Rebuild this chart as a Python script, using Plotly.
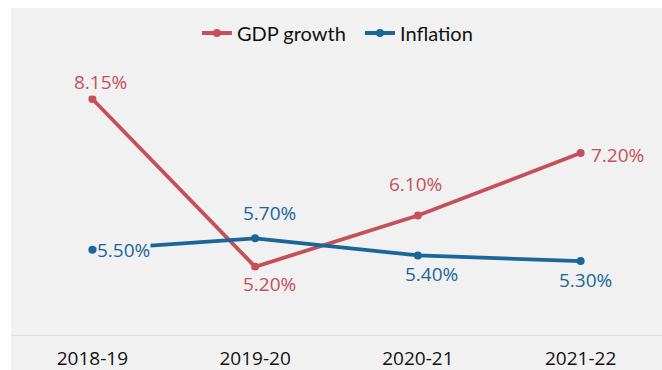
import plotly.graph_objects as go

years = ["2018-19", "2019-20", "2020-21", "2021-22"]
gdp_growth = [8.15, 5.20, 6.10, 7.20]
inflation = [5.50, 5.70, 5.40, 5.30]

RED = "#c5505a"
BLUE = "#1b6698"
BG = "#f1f1f1"

# label placement styles (anchor, xshift, yshift) per point
gdp_label_style = [("center", "bottom", 8, 3), ("center", "top", 14, -3), ("center", "bottom", -2, 18), ("left", "middle", 9, -2)]
inf_label_style = [("left", "middle", 4, 0), ("center", "bottom", 14, 11), ("center", "top", 14, -5), ("center", "top", 5, -5)]

fig = go.Figure()
fig.add_trace(go.Scatter(x=years, y=gdp_growth, name="GDP growth", mode="lines+markers",
                         line=dict(color=RED, width=3.8), marker=dict(color=RED, size=8)))
fig.add_trace(go.Scatter(x=years, y=inflation, name="Inflation", mode="lines+markers",
                         line=dict(color=BLUE, width=3.8), marker=dict(color=BLUE, size=8)))

annotations = []
for vals, styles, col in [(gdp_growth, gdp_label_style, RED), (inflation, inf_label_style, BLUE)]:
    for x, v, (xa, ya, xs, ys) in zip(years, vals, styles):
        annotations.append(dict(x=x, y=v, xref="x", yref="y", text=f"{v:.2f}%", showarrow=False,
                                xanchor=xa, yanchor=ya, xshift=xs, yshift=ys,
                                font=dict(family="Open Sans", size=19, color=col),
                                bgcolor=BG, borderpad=0))

L, R, T, B = 11, 0, 8, 35
W, H = 662, 370
pw, ph = W - L - R, H - T - B

fig.update_layout(
    width=W, height=H,
    margin=dict(l=L, r=R, t=T, b=B),
    paper_bgcolor=BG, plot_bgcolor=BG,
    showlegend=True,
    legend=dict(orientation="h", x=0.536, xanchor="center", y=1 - (33 - T) / ph, yanchor="middle",
                font=dict(family="Lato", size=20, color="#111111"), bgcolor="rgba(0,0,0,0)",
                itemwidth=30, entrywidth=118),
    xaxis=dict(type="category", range=[-0.5, 3.5], showgrid=False, zeroline=False,
               showline=True, linecolor="#dddddd", linewidth=1,
               ticks="outside", ticklen=6, tickcolor="rgba(0,0,0,0)",
               tickfont=dict(family="Open Sans", size=19, color="#111111")),
    yaxis=dict(range=[4, 9.75], visible=False),
    annotations=annotations,
    shapes=[
        dict(type="rect", xref="paper", yref="paper", x0=-L / pw - 0.01, x1=0, y0=-B / ph - 0.05, y1=1 + T / ph + 0.05,
             fillcolor="white", line=dict(width=0), layer="above"),
        dict(type="rect", xref="paper", yref="paper", x0=-0.05, x1=1.05, y0=1, y1=1 + T / ph + 0.05,
             fillcolor="white", line=dict(width=0), layer="above"),
    ],
)

fig.write_html("out.html")
